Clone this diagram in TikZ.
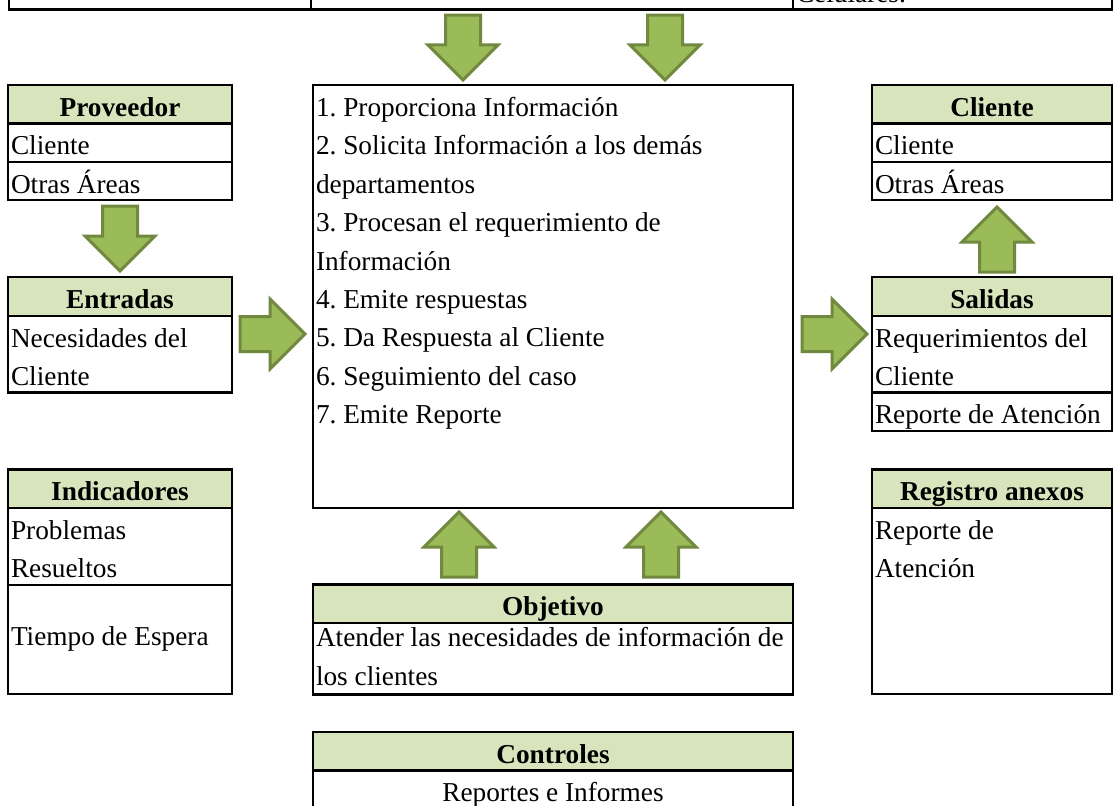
\documentclass[tikz,border=0pt]{standalone}
\usepackage{fontspec}
\setmainfont{Liberation Serif}
\usetikzlibrary{positioning,shapes.arrows}
\definecolor{hdr}{HTML}{D8E4BC}
\definecolor{arrfill}{HTML}{9BBB59}
\definecolor{arrline}{HTML}{71893F}
\newcommand{\rs}{\rule[-7pt]{0pt}{38.4pt}}
\newcommand{\cellsp}{\spaceskip=6.8pt\relax}
\frenchspacing
\tikzset{cell/.style={draw,line width=2.2pt,outer sep=0pt,inner xsep=3pt,inner ysep=0pt,align=left,font=\fontsize{27.3}{38.4}\selectfont,execute at begin node=\cellsp},
hcell/.style={cell,fill=hdr,align=center,font=\fontsize{27.3}{38.4}\selectfont\bfseries},
lcol/.style={text width=218},ccol/.style={text width=474},rcol/.style={text width=234},
barrow/.style={single arrow,draw=arrline,fill=arrfill,line width=3pt,inner xsep=0pt,inner ysep=16pt,minimum height=65,single arrow head extend=17.5}}

\begin{document}
\begin{tikzpicture}[x=1pt,y=1pt]
\useasboundingbox(0,0)rectangle(1117,-806);
% top table, cut by the page
\node[cell,text width=296,anchor=south west](topA)at(9,-9.5){\rs};
\node[cell,text width=476,right=0pt of topA](topB){\rs};
\node[cell,text width=313,right=0pt of topB](topC){\rs Celulares.};
% left column
\node[hcell,lcol,anchor=north west](prov)at(8,-85){\rs Proveedor};
\node[cell,lcol,below=0pt of prov](provA){\rs Cliente};
\node[cell,lcol,below=0pt of provA](provB){\rs Otras Áreas};
\node[hcell,lcol,anchor=north west](ent)at(8,-277.3){\rs Entradas};
\node[cell,lcol,below=0pt of ent](entA){\rs Necesidades del\\\rs Cliente};
\node[hcell,lcol,anchor=north west](ind)at(8,-469.5){\rs Indicadores};
\node[cell,lcol,below=0pt of ind](indA){\rs Problemas\\\rs Resueltos};
\node[cell,lcol,minimum height=109.3,below=0pt of indA](indB){Tiempo de Espera};
% middle column
\node[cell,ccol,anchor=north west](proc)at(313,-85){\rs 1. Proporciona Información\\\rs 2. Solicita Información a los demás\\\rs departamentos\\\rs 3. Procesan el requerimiento de\\\rs Información\\\rs 4. Emite respuestas\\\rs 5. Da Respuesta al Cliente\\\rs 6. Seguimiento del caso\\\rs 7. Emite Reporte\rule[-84.4pt]{0pt}{1pt}};
\node[hcell,ccol,anchor=north west](obj)at(313,-584.4){\rs Objetivo};
\node[cell,ccol,below=0pt of obj](objA){\rule{0pt}{24pt}\mbox{Atender las necesidades de información de}\\los clientes\rule[-9.2pt]{0pt}{20pt}};
\node[hcell,ccol,anchor=north west](ctl)at(313,-732){\rs Controles};
\node[cell,ccol,align=center,below=0pt of ctl](ctlA){\rs Reportes e Informes};
% right column
\node[hcell,rcol,anchor=north west](cli)at(872,-85){\rs Cliente};
\node[cell,rcol,below=0pt of cli](cliA){\rs Cliente};
\node[cell,rcol,below=0pt of cliA](cliB){\rs Otras Áreas};
\node[hcell,rcol,anchor=north west](sal)at(872,-277.3){\rs Salidas};
\node[cell,rcol,below=0pt of sal](salA){\rs Requerimientos del\\\rs Cliente};
\node[cell,rcol,below=0pt of salA](salB){\rs Reporte de Atención};
\node[hcell,rcol,anchor=north west](reg)at(872,-469.5){\rs Registro anexos};
\node[cell,rcol,below=0pt of reg](regA){\rs Reporte de\\\rs Atención\rule[-116.3pt]{0pt}{1pt}};
% block arrows
\foreach\n/\p/\r in{a1/{463,-13.5}/-90,a2/{665,-13.5}/-90,a3/{120,-204.5}/-90,a4/{238.5,-334}/0,a5/{800.5,-334}/0,a6/{997,-273.5}/90,a7/{459,-578.5}/90,a8/{661,-578.5}/90}\node[barrow,rotate=\r,anchor=tail](\n)at(\p){};
\end{tikzpicture}
\end{document}
